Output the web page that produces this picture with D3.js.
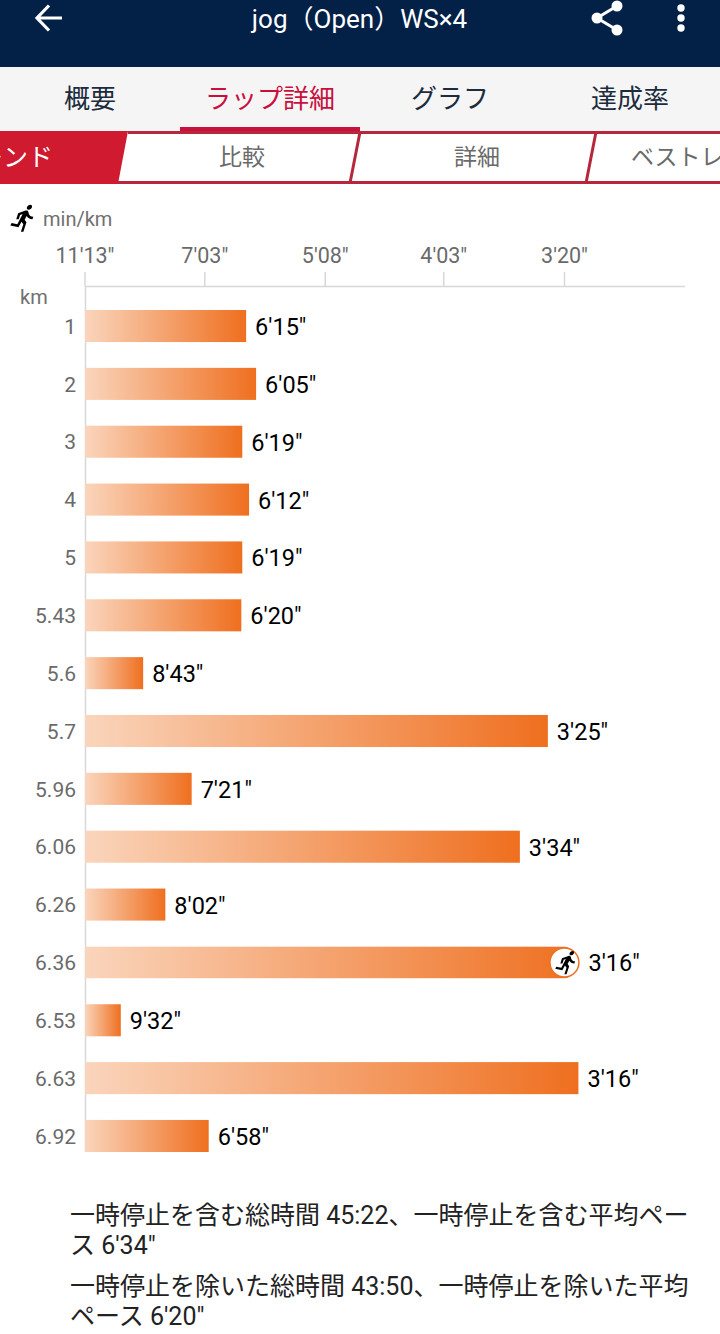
<!DOCTYPE html>
<html>
<head>
<meta charset="utf-8">
<script src="https://cdn.jsdelivr.net/npm/d3@7"></script>
<style>
  html, body { margin: 0; padding: 0; background: #fff; }
  svg { display: block; font-family: Roboto, "Noto Sans CJK JP", sans-serif; }
</style>
</head>
<body>
<svg id="chart" width="720" height="1334"></svg>
<script>
const lapKm = ["1", "2", "3", "4", "5", "5.43", "5.6", "5.7", "5.96", "6.06", "6.26", "6.36", "6.53", "6.63", "6.92"];
const paceLabels = ["6'15\"", "6'05\"", "6'19\"", "6'12\"", "6'19\"", "6'20\"", "8'43\"", "3'25\"", "7'21\"", "3'34\"", "8'02\"", "3'16\"", "9'32\"", "3'16\"", "6'58\""];
const axisLabels = ["11'13\"", "7'03\"", "5'08\"", "4'03\"", "3'20\""];
const mainTabs = ["概要", "ラップ詳細", "グラフ", "達成率"];
const subTabs = ["比較", "詳細", "ベストレ"];
const footerLines = [
  "一時停止を含む総時間 45:22、一時停止を含む平均ペー",
  "ス 6'34\"",
  "一時停止を除いた総時間 43:50、一時停止を除いた平均",
  "ペース 6'20\""
];
const fastestLap = 11;

const runnerPath = "M13.49 5.48c1.1 0 2-.9 2-2s-.9-2-2-2-2 .9-2 2 .9 2 2 2zm-3.6 13.9l1-4.4 2.1 2v6h2v-7.5l-2.1-2 .6-3c1.3 1.5 3.3 2.5 5.5 2.5v-2c-1.9 0-3.5-1-4.3-2.4l-1-1.6c-.4-.6-1-1-1.7-1-.3 0-.5.1-.8.1l-5.2 2.2v4.7h2v-3.4l1.8-.7-1.6 8.1-4.9-1-.4 2 7 1.4z";

// pace string -> speed (km per second), the chart axis is linear in speed
function speed(label) {
  const parts = label.replace('"', "").split("'");
  return 1 / (parseInt(parts[0], 10) * 60 + parseInt(parts[1], 10));
}

const svg = d3.select("#chart");

// header
svg.append("rect").attr("width", 720).attr("height", 67).attr("fill", "#032047");
svg.append("path")
  .attr("d", "M62 18H38M49 5.5L37 18L49 30.5")
  .attr("fill", "none").attr("stroke", "#fff").attr("stroke-width", 3.2);
svg.append("text")
  .attr("x", 359.5).attr("y", 28).attr("text-anchor", "middle")
  .attr("fill", "#fff").attr("font-size", 26)
  .text("jog（Open）WS×4");
const share = svg.append("g").attr("fill", "#fff");
share.append("path")
  .attr("d", "M617 6L597 18L617 30")
  .attr("fill", "none").attr("stroke", "#fff").attr("stroke-width", 3);
[[617, 6], [597, 18], [617, 30]].forEach((p) => {
  share.append("circle").attr("cx", p[0]).attr("cy", p[1]).attr("r", 5.5);
});
[8, 18, 28].forEach((y) => {
  svg.append("circle").attr("cx", 681).attr("cy", y).attr("r", 3.7).attr("fill", "#fff");
});

// main tabs
svg.append("rect").attr("y", 67).attr("width", 720).attr("height", 64).attr("fill", "#f5f5f5");
const tabX = d3.scaleBand().domain(mainTabs).range([0, 720]);
svg.selectAll(".main-tab").data(mainTabs).join("text")
  .attr("class", "main-tab")
  .attr("x", (d) => tabX(d) + tabX.bandwidth() / 2)
  .attr("y", 108).attr("text-anchor", "middle").attr("font-size", 26)
  .attr("fill", (d, i) => (i == 1 ? "#c8103e" : "#1c2c3c"))
  .text((d) => d);
svg.append("rect").attr("x", 180).attr("y", 127).attr("width", 180).attr("height", 4).attr("fill", "#c8103e");

// sub tabs
const subBg = svg.append("g");
subBg.append("rect").attr("y", 131).attr("width", 720).attr("height", 53).attr("fill", "#fff");
subBg.append("path").attr("d", "M0 131H128L118 184H0Z").attr("fill", "#d01a30");
subBg.append("path")
  .attr("d", "M128 132.5H720M118 182.5H720M360 132L350 183M596 132L586 183")
  .attr("fill", "none").attr("stroke", "#b5283c").attr("stroke-width", 3);
svg.append("text")
  .attr("x", 53).attr("y", 166).attr("text-anchor", "end")
  .attr("font-size", 25).attr("fill", "#fff").text("トレンド");
svg.selectAll(".sub-tab").data(subTabs).join("text")
  .attr("class", "sub-tab")
  .attr("x", (d, i) => 242 + i * 235)
  .attr("y", 165).attr("font-size", 23).attr("fill", "#6a6a6a")
  .attr("text-anchor", (d, i) => (i == 2 ? "start" : "middle"))
  .attr("dx", (d, i) => (i == 2 ? -81 : 0))
  .text((d) => d);

// unit row
svg.append("path").attr("d", runnerPath).attr("fill", "#000")
  .attr("transform", "translate(5,203) skewX(-18) translate(9,0) scale(1.25)");
svg.append("text")
  .attr("x", 43).attr("y", 226).attr("font-size", 20).attr("fill", "#707070").text("min/km");
svg.append("text")
  .attr("x", 20).attr("y", 304).attr("font-size", 20).attr("fill", "#707070").text("km");

// scales
const x = d3.scaleLinear()
  .domain([speed(axisLabels[0]), speed(axisLabels[4])])
  .range([85, 564.5]);
const y = d3.scaleBand()
  .domain(d3.range(lapKm.length))
  .range([310, 1152])
  .paddingInner(0.446)
  .paddingOuter(0);

// gradient
const grad = svg.append("defs").append("linearGradient").attr("id", "barFill");
grad.append("stop").attr("offset", "0%").attr("stop-color", "#fad5bc");
grad.append("stop").attr("offset", "100%").attr("stop-color", "#ef6f1f");

// axes
const xAxis = d3.axisTop(x)
  .tickValues(axisLabels.map(speed))
  .tickFormat((d, i) => axisLabels[i])
  .tickSizeInner(14)
  .tickSizeOuter(0)
  .tickPadding(9);
const gx = svg.append("g").attr("transform", "translate(-0.5,286)").call(xAxis);
gx.select(".domain").remove();
gx.selectAll("line").attr("stroke", "#d8d8d8").attr("stroke-width", 1.5);
gx.selectAll("text").attr("font-size", 21.5).attr("fill", "#6a6a6a").attr("font-family", "Roboto");
svg.append("line").attr("x1", 85).attr("x2", 685).attr("y1", 286.5).attr("y2", 286.5)
  .attr("stroke", "#d8d8d8").attr("stroke-width", 1.5);

const yAxis = d3.axisLeft(y)
  .tickFormat((d) => lapKm[d])
  .tickSize(0)
  .tickPadding(9);
const gy = svg.append("g").attr("transform", "translate(85,1)").call(yAxis);
gy.select(".domain").remove();
gy.selectAll("text").attr("font-size", 21).attr("fill", "#6a6a6a").attr("font-family", "Roboto");
svg.append("line").attr("x1", 85.5).attr("x2", 85.5).attr("y1", 286).attr("y2", 1152)
  .attr("stroke", "#d8d8d8").attr("stroke-width", 1.5);

// bars
svg.selectAll(".bar").data(paceLabels).join("rect")
  .attr("class", "bar")
  .attr("x", 85)
  .attr("y", (d, i) => y(i))
  .attr("width", (d) => x(speed(d)) - 85)
  .attr("height", y.bandwidth())
  .attr("fill", "url(#barFill)")
  .style("clip-path", (d, i) => (i == fastestLap ? "inset(0 round 0 16px 16px 0)" : null));

svg.selectAll(".pace").data(paceLabels).join("text")
  .attr("class", "pace")
  .attr("x", (d, i) => x(speed(d)) + (i == fastestLap ? 10 : 9))
  .attr("y", (d, i) => y(i) + y.bandwidth() / 2 + 9)
  .attr("font-size", 23.5).attr("fill", "#000").attr("font-family", "Roboto")
  .text((d) => d);

// runner badge on the fastest lap
const badgeX = x(speed(paceLabels[fastestLap])) - 14;
const badgeY = y(fastestLap) + y.bandwidth() / 2;
svg.append("circle")
  .attr("cx", badgeX).attr("cy", badgeY).attr("r", 14.5)
  .attr("fill", "#fff").attr("stroke", "#ef6f1f").attr("stroke-width", 1.5);
svg.append("path").attr("d", runnerPath).attr("fill", "#000")
  .attr("transform", `translate(${badgeX - 13},${badgeY - 13}) skewX(-18) translate(7,0) scale(1.08)`);

// footer
const footerY = [1224, 1254, 1295, 1325];
svg.selectAll(".foot").data(footerLines).join("text")
  .attr("class", "foot")
  .attr("x", 70)
  .attr("y", (d, i) => footerY[i])
  .attr("font-size", 25).attr("fill", "#222")
  .text((d) => d);
</script>
</body>
</html>
